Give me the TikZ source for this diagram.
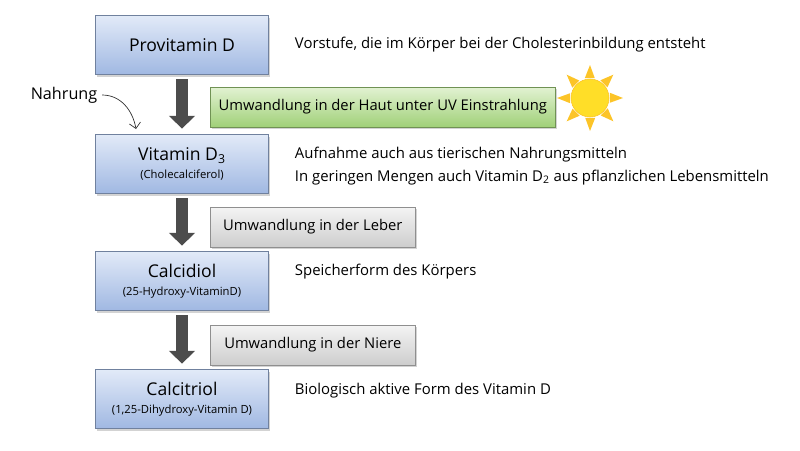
\documentclass[tikz,border=0pt]{standalone}
\usepackage{fontspec}
\setmainfont{Open Sans}
\usetikzlibrary{positioning,arrows.meta,shadows}
\definecolor{boxtop}{RGB}{226,234,248}
\definecolor{boxbot}{RGB}{160,184,226}
\definecolor{greentop}{RGB}{226,242,210}
\definecolor{greenbot}{RGB}{160,208,120}
\definecolor{graytop}{RGB}{244,244,244}
\definecolor{graybot}{RGB}{205,205,205}
\definecolor{sunfill}{RGB}{255,222,40}
\definecolor{sunray}{RGB}{252,196,40}

\begin{document}
\begin{tikzpicture}[x=0.025cm, y=-0.025cm,
    stage/.style={draw=boxbot!70!black, line width=0.4pt, top color=boxtop, bottom color=boxbot,
                  minimum width=173*0.025cm, minimum height=59*0.025cm, align=center,
                  drop shadow={shadow xshift=1pt, shadow yshift=-1.5pt, opacity=0.35}},
    change/.style={draw=#1bot!70!black, line width=0.4pt, top color=#1top, bottom color=#1bot,
                  minimum height=40*0.025cm, anchor=west, inner xsep=6pt, font=\fontsize{10.5}{12}\selectfont,
                  drop shadow={shadow xshift=1pt, shadow yshift=-1.5pt, opacity=0.35}},
    note/.style={anchor=west, align=left, font=\fontsize{10.6}{16}\selectfont},
    flow/.style={-{Triangle[length=9pt, width=18pt]}, line width=8pt, black!70}]
    \useasboundingbox (0,0) rectangle (800,450);

    \node[stage] (pro) at (182,45) {\fontsize{12.5}{14}\selectfont Provitamin D};
    \node[stage] (d3) at (182,164) {\fontsize{12.5}{14}\selectfont Vitamin D\textsubscript{3}\\[1pt]\fontsize{8}{9}\selectfont (Cholecalciferol)};
    \node[stage] (cdi) at (182,281) {\fontsize{12.5}{14}\selectfont Calcidiol\\[1pt]\fontsize{8}{9}\selectfont (25-Hydroxy-VitaminD)};
    \node[stage] (ctr) at (182,399) {\fontsize{12.5}{14}\selectfont Calcitriol\\[1pt]\fontsize{8}{9}\selectfont (1,25-Dihydroxy-Vitamin D)};

    \draw[flow] ([yshift=-3pt]pro.south) -- ([yshift=4pt]d3.north);
    \draw[flow] ([yshift=-3pt]d3.south) -- ([yshift=4pt]cdi.north);
    \draw[flow] ([yshift=-3pt]cdi.south) -- ([yshift=4pt]ctr.north);

    \node[change=green, minimum width=345*0.025cm] (haut) at (210,107) {Umwandlung in der Haut unter UV Einstrahlung};
    \node[change=gray, minimum width=205*0.025cm] (leber) at (210,227) {Umwandlung in der Leber};
    \node[change=gray, minimum width=205*0.025cm] (niere) at (210,345) {Umwandlung in der Niere};

    % sun
    \foreach \a in {0,45,...,315}
        \fill[sunray] (590,98) ++(\a:33) -- ++(\a+160:14) -- ++(\a-90:10) -- cycle;
    \fill[sunfill, draw=sunray] (590,98) circle (19);

    \node[note] (npro) at (290,45) {Vorstufe, die im Körper bei der Cholesterinbildung entsteht};
    \node[note] (nd3) at (290,166) {Aufnahme auch aus tierischen Nahrungsmitteln\\In geringen Mengen auch Vitamin D\textsubscript{2} aus pflanzlichen Lebensmitteln};
    \node[note] (ncdi) at (290,272) {Speicherform des Körpers};
    \node[note] (nctr) at (290,391) {Biologisch aktive Form des Vitamin D};

    \node[font=\fontsize{11.5}{12}\selectfont] (food) at (64,95) {Nahrung};
    \draw[-{Straight Barb[length=4pt]}, black!80, line width=0.5pt] (food.east) to[out=0, in=100] (136,129);
\end{tikzpicture}
\end{document}
